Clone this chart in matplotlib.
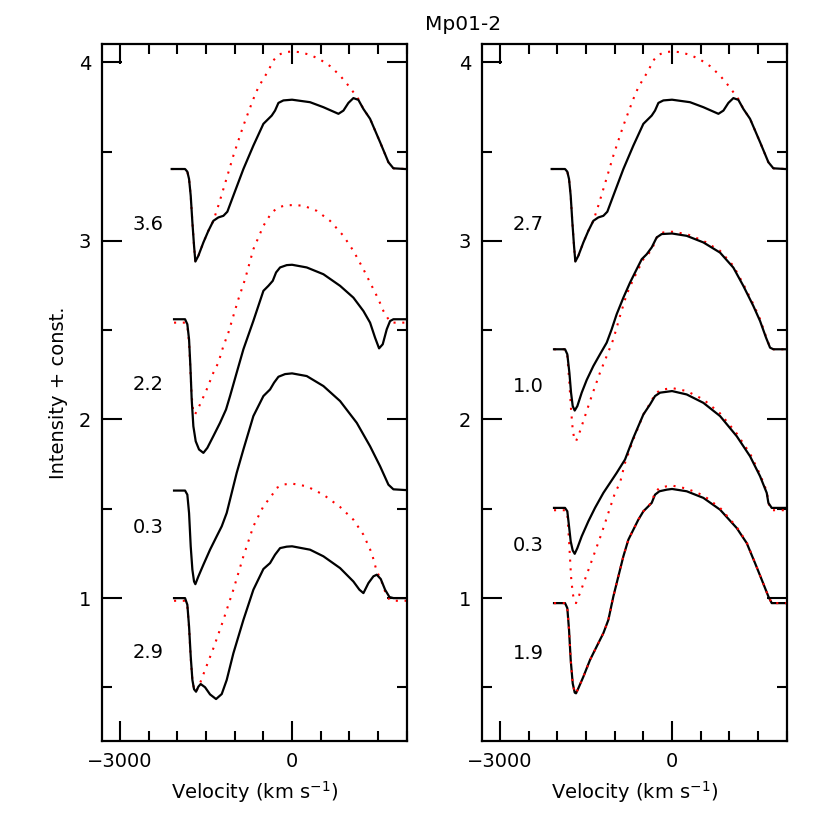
import matplotlib
matplotlib.use("Agg")
import matplotlib.pyplot as plt
from matplotlib.ticker import MultipleLocator

plt.rcParams['font.family'] = ['DejaVu Sans']

# ---------------- data (velocity km/s, intensity + const) ----------------
# Top profile (shared by both panels): observed and model
top_obs_v = [-2100, -2059, -1867, -1827, -1797, -1768, -1739, -1710, -1687, -1635, -1547, -1460, -1373, -1286,
             -1198, -1129, -1024, -849, -675, -500, -355, -297, -238, -151, 0, 314, 547, 809, 896, 983,
             1070, 1157, 1245, 1361, 1536, 1681, 1768, 1972, 2100]
top_obs_y = [3.402, 3.402, 3.402, 3.387, 3.346, 3.252, 3.103, 2.972, 2.884, 2.916, 2.991, 3.056, 3.112, 3.131,
             3.140, 3.163, 3.253, 3.402, 3.533, 3.655, 3.701, 3.729, 3.772, 3.786, 3.790, 3.776, 3.748, 3.711, 3.729, 3.772,
             3.799, 3.789, 3.738, 3.683, 3.552, 3.440, 3.406, 3.402, 3.402]
top_mod_v = [-2100, -2059, -1867, -1827, -1797, -1768, -1739, -1710, -1687, -1635, -1547, -1460, -1373, -1286,
             -1198, -1111, -1024, -937, -849, -762, -675, -588, -500, -413, -326, -238, -122, 0, 140, 314,
             489, 663, 838, 983, 1070, 1157, 1245, 1361, 1536, 1681, 1768, 1972, 2100]
top_mod_y = [3.402, 3.402, 3.402, 3.387, 3.346, 3.252, 3.103, 2.972, 2.884, 2.916, 2.991, 3.056, 3.112, 3.197,
             3.290, 3.383, 3.477, 3.561, 3.645, 3.720, 3.794, 3.860, 3.907, 3.953, 4.010, 4.041, 4.056, 4.060, 4.056, 4.041,
             4.015, 3.978, 3.925, 3.869, 3.832, 3.794, 3.738, 3.683, 3.552, 3.440, 3.406, 3.402, 3.402]

# Left panel, second profile (label 2.2)
l2_obs_v = [-2059, -1867, -1827, -1797, -1774, -1751, -1722, -1681, -1623, -1547, -1478, -1373, -1257, -1152,
            -1082, -966, -849, -675, -500, -413, -337, -279, -209, -93, 0, 256, 547, 838, 1070, 1245,
            1361, 1448, 1518, 1582, 1652, 1710, 1768, 1972, 2100]
l2_obs_y = [2.561, 2.561, 2.533, 2.448, 2.299, 2.112, 1.962, 1.878, 1.832, 1.813, 1.841, 1.907, 1.981, 2.056,
            2.131, 2.262, 2.393, 2.552, 2.720, 2.748, 2.776, 2.823, 2.851, 2.864, 2.866, 2.851, 2.813, 2.748, 2.682, 2.607,
            2.542, 2.458, 2.398, 2.421, 2.505, 2.551, 2.561, 2.561, 2.561]
l2_mod_v = [-2059, -1867, -1827, -1797, -1774, -1751, -1722, -1693, -1606, -1489, -1373, -1286, -1198, -1111,
            -1024, -937, -820, -675, -500, -355, -238, -122, 0, 198, 430, 663, 896, 1070, 1245, 1390,
            1507, 1594, 1681, 1739, 1972, 2100]
l2_mod_y = [2.542, 2.542, 2.523, 2.430, 2.280, 2.131, 2.037, 2.028, 2.084, 2.168, 2.262, 2.318, 2.411, 2.486,
            2.580, 2.673, 2.785, 2.953, 3.084, 3.159, 3.187, 3.198, 3.200, 3.197, 3.168, 3.112, 3.028, 2.944, 2.841, 2.748,
            2.673, 2.607, 2.561, 2.542, 2.542, 2.542]

# Left panel, third profile (label 0.3)
l3_obs_v = [-2059, -1867, -1827, -1797, -1768, -1739, -1710, -1687, -1635, -1547, -1431, -1315, -1227, -1140,
            -1053, -966, -849, -675, -500, -384, -314, -238, -122, 0, 256, 547, 838, 1129, 1361, 1536,
            1681, 1768, 1972, 2100]
l3_obs_y = [1.602, 1.602, 1.579, 1.476, 1.289, 1.159, 1.093, 1.078, 1.121, 1.187, 1.271, 1.346, 1.402, 1.477,
            1.589, 1.701, 1.832, 2.019, 2.131, 2.168, 2.206, 2.239, 2.254, 2.258, 2.243, 2.187, 2.103, 1.981, 1.850, 1.738,
            1.635, 1.609, 1.605, 1.605]

# Left panel, bottom profile (label 2.9)
l4_obs_v = [-2059, -1867, -1827, -1797, -1768, -1739, -1710, -1675, -1635, -1594, -1518, -1431, -1326, -1227,
            -1140, -1024, -849, -675, -500, -384, -297, -209, -93, 0, 314, 547, 838, 1070, 1175, 1245,
            1332, 1419, 1478, 1547, 1623, 1699, 1768, 1972, 2100]
l4_obs_y = [1.000, 1.000, 0.963, 0.841, 0.673, 0.542, 0.490, 0.476, 0.504, 0.519, 0.501, 0.461, 0.435, 0.463,
            0.542, 0.691, 0.878, 1.047, 1.163, 1.196, 1.243, 1.280, 1.288, 1.290, 1.271, 1.234, 1.168, 1.093, 1.047, 1.028,
            1.084, 1.122, 1.131, 1.107, 1.047, 1.006, 1.000, 1.000, 1.000]
l4_mod_v = [-2059, -1867, -1827, -1797, -1768, -1739, -1710, -1675, -1606, -1518, -1373, -1198, -1024, -849,
            -675, -500, -355, -268, -151, 0, 256, 547, 838, 1070, 1245, 1390, 1478, 1547, 1623, 1699,
            1768, 1972, 2100]
l4_mod_y = [0.985, 0.985, 0.957, 0.832, 0.663, 0.542, 0.490, 0.476, 0.523, 0.598, 0.719, 0.878, 1.047, 1.234,
            1.402, 1.514, 1.574, 1.617, 1.636, 1.641, 1.626, 1.579, 1.510, 1.439, 1.355, 1.252, 1.149, 1.107, 1.037, 0.991,
            0.985, 0.985, 0.985]

# Right panel, second profile (label 1.0)
r2_obs_v = [-2059, -1867, -1827, -1791, -1762, -1733, -1698, -1652, -1576, -1489, -1373, -1257, -1140, -1053,
            -966, -849, -733, -617, -529, -442, -355, -268, -180, 0, 256, 547, 838, 1070, 1245, 1419,
            1536, 1640, 1710, 1768, 1972, 2100]
r2_obs_y = [2.393, 2.393, 2.365, 2.262, 2.150, 2.075, 2.050, 2.075, 2.150, 2.221, 2.299, 2.365, 2.430, 2.505,
            2.589, 2.682, 2.766, 2.841, 2.897, 2.925, 2.963, 3.019, 3.038, 3.041, 3.028, 2.991, 2.934, 2.850, 2.747, 2.635,
            2.551, 2.458, 2.402, 2.393, 2.393, 2.393]
r2_mod_v = [-2059, -1867, -1827, -1791, -1762, -1733, -1704, -1675, -1606, -1518, -1402, -1257, -1140, -1024,
            -908, -791, -675, -588, -500, -413, -326, -238, -151, 0, 256, 547, 838, 1070, 1245, 1419,
            1536, 1640, 1710, 1768, 1972, 2100]
r2_mod_y = [2.393, 2.393, 2.355, 2.206, 2.056, 1.944, 1.888, 1.878, 1.934, 2.019, 2.131, 2.262, 2.355, 2.449,
            2.579, 2.701, 2.785, 2.841, 2.897, 2.925, 2.972, 3.038, 3.047, 3.051, 3.038, 3.000, 2.944, 2.860, 2.757, 2.645,
            2.561, 2.464, 2.402, 2.393, 2.393, 2.393]

# Right panel, third profile (label 0.3)
r3_obs_v = [-2059, -1867, -1827, -1797, -1768, -1733, -1698, -1652, -1576, -1460, -1344, -1198, -1082, -966,
            -820, -675, -500, -384, -297, -209, 0, 256, 547, 838, 1129, 1361, 1536, 1652, 1681, 1739,
            1972, 2100]
r3_obs_y = [1.505, 1.505, 1.486, 1.402, 1.318, 1.267, 1.248, 1.280, 1.346, 1.430, 1.505, 1.589, 1.645, 1.701,
            1.776, 1.897, 2.028, 2.084, 2.131, 2.150, 2.159, 2.140, 2.093, 2.019, 1.906, 1.794, 1.682, 1.589, 1.533, 1.505,
            1.505, 1.505]
r3_mod_v = [-2059, -1867, -1827, -1791, -1762, -1733, -1704, -1675, -1606, -1489, -1373, -1227, -1082, -995,
            -908, -820, -675, -500, -384, -297, -209, 0, 256, 547, 838, 1129, 1361, 1536, 1652, 1693,
            1739, 1972, 2100]
r3_mod_y = [1.492, 1.492, 1.476, 1.289, 1.120, 1.028, 0.981, 0.972, 1.028, 1.131, 1.234, 1.364, 1.505, 1.589,
            1.645, 1.757, 1.888, 2.028, 2.090, 2.140, 2.165, 2.176, 2.159, 2.112, 2.034, 1.921, 1.809, 1.692, 1.598, 1.518,
            1.492, 1.492, 1.492]

# Right panel, bottom profile (label 1.9)
r4_obs_v = [-2059, -1867, -1827, -1797, -1768, -1733, -1698, -1675, -1635, -1547, -1431, -1315, -1198, -1111,
            -1024, -937, -849, -762, -675, -588, -500, -413, -355, -297, -221, -93, 0, 256, 547, 838,
            1129, 1303, 1448, 1565, 1681, 1739, 1972, 2100]
r4_obs_y = [0.972, 0.972, 0.944, 0.822, 0.654, 0.523, 0.471, 0.467, 0.495, 0.560, 0.654, 0.729, 0.804, 0.878,
            1.009, 1.121, 1.234, 1.327, 1.383, 1.439, 1.486, 1.514, 1.533, 1.579, 1.598, 1.607, 1.611, 1.598, 1.561, 1.495,
            1.392, 1.308, 1.196, 1.103, 1.009, 0.972, 0.972, 0.972]
r4_mod_v = r4_obs_v
r4_mod_y = [0.972, 0.972, 0.944, 0.822, 0.654, 0.523, 0.471, 0.467, 0.495, 0.560, 0.654, 0.729, 0.804, 0.878,
            1.009, 1.121, 1.234, 1.327, 1.383, 1.439, 1.486, 1.514, 1.540, 1.590, 1.617, 1.626, 1.630, 1.613, 1.575, 1.505,
            1.398, 1.312, 1.198, 1.103, 1.009, 0.972, 0.972, 0.972]

left_labels = ["3.6", "2.2", "0.3", "2.9"]
left_label_y = [3.094, 2.196, 1.394, 0.695]
right_labels = ["2.7", "1.0", "0.3", "1.9"]
right_label_y = [3.094, 2.187, 1.295, 0.692]

title = "Mp01-2"
xlabel = "Velocity (km s$^{-1}$)"
ylabel = "Intensity + const."

# ---------------- figure ----------------
fig = plt.figure(figsize=(8.3, 8.3), dpi=100)
axL = fig.add_axes([0.1233, 0.1072, 0.3667, 0.8394])
axR = fig.add_axes([0.5811, 0.1072, 0.3667, 0.8394])

black_kw = dict(color="black", lw=1.6, solid_joinstyle="round")
red_kw = dict(color="red", lw=1.5, linestyle=(0, (1, 3.2)))

# left panel
axL.plot(top_mod_v, top_mod_y, **red_kw)
axL.plot(top_obs_v, top_obs_y, **black_kw)
axL.plot(l2_mod_v, l2_mod_y, **red_kw)
axL.plot(l2_obs_v, l2_obs_y, **black_kw)
axL.plot(l3_obs_v, l3_obs_y, **black_kw)
axL.plot(l4_mod_v, l4_mod_y, **red_kw)
axL.plot(l4_obs_v, l4_obs_y, **black_kw)

# right panel
axR.plot(top_mod_v, top_mod_y, **red_kw)
axR.plot(top_obs_v, top_obs_y, **black_kw)
axR.plot(r2_mod_v, r2_mod_y, **red_kw)
axR.plot(r2_obs_v, r2_obs_y, **black_kw)
axR.plot(r3_mod_v, r3_mod_y, **red_kw)
axR.plot(r3_obs_v, r3_obs_y, **black_kw)
axR.plot(r4_obs_v, r4_obs_y, **black_kw)
axR.plot(r4_mod_v, r4_mod_y, **red_kw)

for ax, labs, ly in ((axL, left_labels, left_label_y), (axR, right_labels, right_label_y)):
    for t, yy in zip(labs, ly):
        ax.text(-2510, yy, t, ha="center", va="center", fontsize=14)
    ax.set_xlim(-3310, 2000)
    ax.set_ylim(0.2, 4.1)
    ax.xaxis.set_major_locator(MultipleLocator(3000))
    ax.xaxis.set_minor_locator(MultipleLocator(500))
    ax.yaxis.set_major_locator(MultipleLocator(1))
    ax.yaxis.set_minor_locator(MultipleLocator(0.5))
    ax.tick_params(which="both", direction="in", top=True, right=True, width=1.5)
    ax.tick_params(which="major", length=14.5, labelsize=14, pad=8)
    ax.tick_params(which="minor", length=7.5)
    for s in ax.spines.values():
        s.set_linewidth(1.6)
    ax.set_xlabel(xlabel, fontsize=14, labelpad=6)

axL.set_ylabel(ylabel, fontsize=14, labelpad=8)
fig.text(463 / 830, 1 - 25 / 830, title, ha="center", va="center", fontsize=14.5)

fig.savefig("out.png", dpi=100)
